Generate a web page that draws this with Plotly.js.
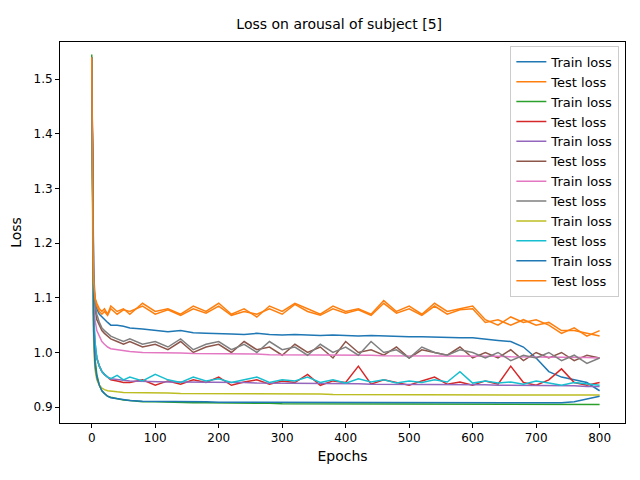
<!DOCTYPE html>
<html>
<head>
<meta charset="utf-8">
<script src="https://cdn.plot.ly/plotly-3.0.1.min.js"></script>
<style>body{margin:0}#chart{width:640px;height:480px}</style>
</head>
<body>
<div id="chart"></div>
<script>
var epochs = [0,1,2,3,5,8,12,16,20,25,30,40,50,60,80,100,120,140,160,180,200,220,240,260,280,300,320,340,360,380,400,420,440,460,480,500,520,540,560,580,600,620,640,660,680,700,720,740,760,780,800];

var train1 = [1.54,1.35,1.22,1.15,1.10,1.08,1.07,1.065,1.06,1.055,1.05,1.05,1.048,1.045,1.043,1.04,1.038,1.04,1.036,1.035,1.035,1.034,1.033,1.035,1.033,1.032,1.033,1.032,1.031,1.032,1.031,1.030,1.031,1.030,1.030,1.029,1.029,1.028,1.028,1.027,1.027,1.024,1.022,1.020,1.010,0.990,0.965,0.955,0.950,0.945,0.930];
var test1 = [1.54,1.30,1.18,1.12,1.10,1.09,1.08,1.075,1.08,1.07,1.085,1.075,1.08,1.07,1.09,1.075,1.08,1.07,1.085,1.075,1.09,1.07,1.08,1.065,1.085,1.075,1.09,1.08,1.07,1.085,1.075,1.08,1.07,1.095,1.075,1.085,1.07,1.09,1.075,1.08,1.085,1.06,1.05,1.065,1.055,1.06,1.05,1.035,1.045,1.03,1.04];
var train2 = [1.545,1.30,1.15,1.05,0.99,0.96,0.94,0.93,0.925,0.92,0.918,0.915,0.913,0.912,0.910,0.910,0.909,0.909,0.908,0.908,0.908,0.907,0.907,0.907,0.907,0.906,0.906,0.906,0.906,0.906,0.906,0.906,0.905,0.905,0.905,0.905,0.905,0.905,0.905,0.905,0.905,0.905,0.905,0.905,0.905,0.905,0.905,0.905,0.905,0.905,0.905];
var test2 = [1.54,1.28,1.14,1.06,1.01,0.99,0.975,0.965,0.96,0.955,0.95,0.948,0.945,0.945,0.95,0.94,0.948,0.942,0.95,0.945,0.955,0.94,0.946,0.95,0.942,0.948,0.945,0.96,0.94,0.948,0.945,0.975,0.942,0.95,0.945,0.94,0.948,0.955,0.942,0.946,0.94,0.948,0.942,0.975,0.945,0.94,0.95,0.97,0.945,0.94,0.945];
var train3 = [1.54,1.30,1.16,1.07,1.02,0.99,0.975,0.965,0.96,0.955,0.952,0.95,0.949,0.948,0.947,0.947,0.946,0.946,0.946,0.945,0.945,0.945,0.945,0.944,0.944,0.944,0.944,0.943,0.943,0.943,0.943,0.943,0.942,0.942,0.942,0.942,0.942,0.941,0.941,0.941,0.941,0.941,0.940,0.940,0.940,0.940,0.939,0.939,0.939,0.938,0.938];
var test3 = [1.54,1.32,1.20,1.12,1.08,1.06,1.05,1.04,1.035,1.03,1.025,1.02,1.015,1.02,1.01,1.015,1.005,1.02,1.0,1.01,1.015,1.0,1.02,1.005,1.01,0.995,1.015,1.0,1.01,0.99,1.02,1.0,1.005,0.995,1.01,0.99,1.005,1.0,0.995,1.01,0.99,1.0,0.99,1.005,0.985,1.0,0.99,1.0,0.985,0.995,0.99];
var train4 = [1.54,1.30,1.17,1.10,1.06,1.04,1.03,1.02,1.015,1.01,1.007,1.005,1.003,1.002,1.0,1.0,0.999,0.999,0.998,0.998,0.998,0.997,0.997,0.997,0.996,0.996,0.996,0.996,0.995,0.995,0.995,0.995,0.995,0.994,0.994,0.994,0.994,0.994,0.993,0.993,0.993,0.993,0.993,0.992,0.992,0.992,0.992,0.991,0.991,0.991,0.99];
var test4 = [1.54,1.33,1.21,1.13,1.09,1.07,1.055,1.045,1.04,1.035,1.03,1.025,1.02,1.025,1.015,1.02,1.01,1.025,1.005,1.015,1.02,1.005,1.015,1.0,1.02,1.005,1.01,0.995,1.015,1.0,1.01,0.995,1.02,1.0,1.005,0.99,1.01,1.0,0.995,1.005,1.0,0.99,1.0,0.985,0.995,0.99,1.0,0.985,0.995,0.98,0.99];
var train5 = [1.54,1.25,1.10,1.02,0.97,0.95,0.94,0.935,0.932,0.93,0.929,0.928,0.927,0.927,0.926,0.926,0.926,0.925,0.925,0.925,0.925,0.925,0.924,0.924,0.924,0.924,0.924,0.924,0.924,0.923,0.923,0.923,0.923,0.923,0.923,0.923,0.923,0.922,0.922,0.922,0.922,0.922,0.922,0.922,0.922,0.922,0.922,0.922,0.922,0.922,0.922];
var test5 = [1.54,1.29,1.15,1.07,1.02,0.99,0.975,0.965,0.96,0.955,0.952,0.958,0.95,0.955,0.948,0.96,0.95,0.945,0.955,0.948,0.952,0.945,0.95,0.955,0.945,0.95,0.948,0.955,0.945,0.95,0.944,0.952,0.946,0.95,0.944,0.948,0.945,0.95,0.946,0.965,0.944,0.948,0.944,0.946,0.942,0.948,0.944,0.94,0.945,0.942,0.94];
var train6 = [1.54,1.28,1.13,1.04,0.98,0.955,0.94,0.93,0.925,0.92,0.917,0.915,0.913,0.912,0.911,0.911,0.91,0.91,0.91,0.91,0.909,0.909,0.909,0.909,0.909,0.909,0.908,0.908,0.908,0.908,0.908,0.908,0.908,0.908,0.908,0.908,0.908,0.908,0.908,0.908,0.908,0.908,0.908,0.908,0.908,0.908,0.908,0.908,0.91,0.915,0.92];
var test6 = [1.54,1.31,1.19,1.13,1.10,1.085,1.075,1.07,1.075,1.068,1.08,1.07,1.078,1.075,1.085,1.07,1.078,1.068,1.08,1.072,1.085,1.068,1.075,1.07,1.08,1.07,1.088,1.075,1.068,1.08,1.072,1.078,1.068,1.09,1.072,1.08,1.068,1.085,1.07,1.078,1.08,1.055,1.06,1.05,1.06,1.05,1.055,1.04,1.04,1.035,1.03];

var series = [train1,test1,train2,test2,train3,test3,train4,test4,train5,test5,train6,test6];
var colors = ['#1f77b4','#ff7f0e','#2ca02c','#d62728','#9467bd','#8c564b','#e377c2','#7f7f7f','#bcbd22','#17becf','#1f77b4','#ff7f0e'];

var data = series.map(function(s, i){
  return {x: epochs, y: s, mode: 'lines', name: i % 2 == 0 ? 'Train loss' : 'Test loss',
    line: {color: colors[i], width: 1.5}};
});

var ax = {showline: true, mirror: true, linecolor: '#000', linewidth: 1, ticks: 'outside',
  ticklen: 4, tickcolor: '#000', showgrid: false, zeroline: false};

var layout = {
  width: 640, height: 480,
  margin: {l: 60, r: 15, t: 42, b: 57},
  font: {family: 'DejaVu Sans', size: 12, color: '#000'},
  title: {text: 'Loss on arousal of subject [5]', x: 0.53, y: 0.96, font: {size: 14}},
  xaxis: Object.assign({}, ax, {range: [-50, 840], dtick: 100, title: {text: 'Epochs', standoff: 6}}),
  yaxis: Object.assign({}, ax, {range: [0.871, 1.568], dtick: 0.1, tickformat: '.1f', title: {text: 'Loss', standoff: 8}}),
  legend: {x: 0.99, y: 0.99, xanchor: 'right', yanchor: 'top', bordercolor: '#ccc', borderwidth: 1,
    bgcolor: 'rgba(255,255,255,0.8)', font: {size: 13}, tracegroupgap: 0},
  showlegend: true
};

Plotly.newPlot('chart', data, layout, {displayModeBar: false});
</script>
</body>
</html>
